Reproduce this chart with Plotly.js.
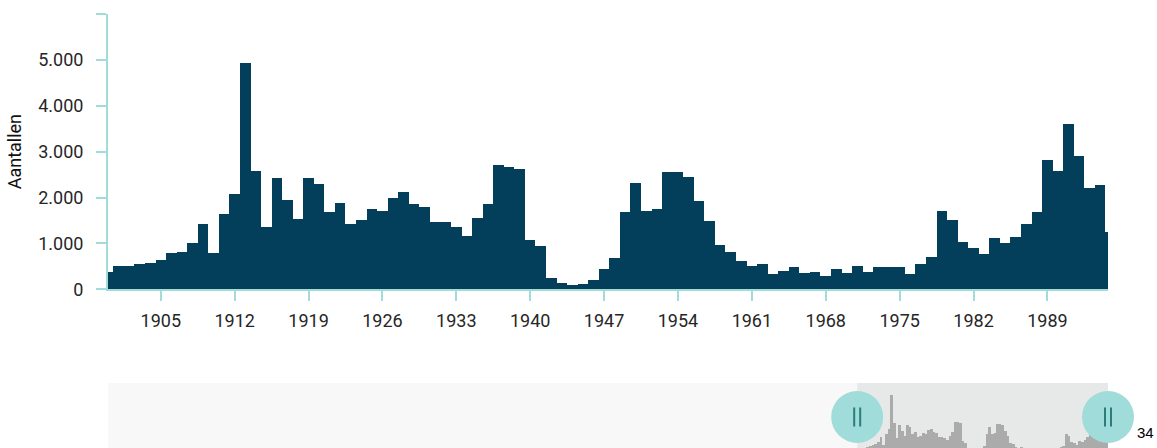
<!DOCTYPE html>
<html>
<head>
<meta charset="utf-8">
<script src="https://cdn.plot.ly/plotly-3.0.1.min.js"></script>
<style>
  html, body { margin: 0; padding: 0; background: #ffffff; }
  #chart { width: 1157px; height: 448px; }
</style>
</head>
<body>
<div id="chart"></div>
<script>
// Years shown (one bar per year)
const years = [];
for (let y = 1900; y <= 1995; y++) years.push(y);

// Counts per year ("Aantallen")
const counts = [
  380, 514, 510, 544, 566, 631, 797, 819, 1002, 1429,   // 1900-1909
  790, 1640, 2069, 4943, 2583, 1363, 2417, 1951, 1524, 2417, // 1910-1919
  2286, 1677, 1879, 1429, 1502, 1755, 1712, 1995, 2112, 1858, // 1920-1929
  1785, 1459, 1459, 1357, 1154, 1546, 1858, 2700, 2657, 2613, // 1930-1939
  1080, 936, 253, 131, 87, 109, 203, 442, 682, 1690,         // 1940-1949
  2308, 1712, 1742, 2561, 2561, 2439, 1923, 1481, 958, 812,  // 1950-1959
  623, 507, 558, 326, 392, 486, 348, 370, 297, 442,          // 1960-1969
  348, 514, 370, 486, 486, 486, 326, 558, 697, 1712,         // 1970-1979
  1502, 1030, 893, 769, 1124, 1008, 1146, 1429, 1690, 2816,  // 1980-1989
  2583, 3593, 2896, 2206, 2278, 1241                          // 1990-1995
];

// Axis ticks
const xTickVals = [1905, 1912, 1919, 1926, 1933, 1940, 1947, 1954, 1961, 1968, 1975, 1982, 1989];
const xTickText = ['1905', '1912', '1919', '1926', '1933', '1940', '1947', '1954', '1961', '1968', '1975', '1982', '1989'];
const yTickVals = [0, 1000, 2000, 3000, 4000, 5000, 6000];
const yTickText = ['0', '1.000', '2.000', '3.000', '4.000', '5.000', ''];

const yTitle = 'Aantallen';
const pageNumber = '34';

// View window (main chart) and navigator window
const viewStart = 1900, viewEnd = 1994.74;
const navStart = 1617;

const AXIS = '#a2dbd8';
const BAR = '#033f5a';
const TXT = '#262626';
const FONT = 'Roboto, "DejaVu Sans", sans-serif';

const NAV_DOMAIN = [0, 0.1498];

const traces = [
  {
    type: 'bar', x: years, y: counts,
    marker: { color: BAR, line: { width: 0 } },
    xaxis: 'x', yaxis: 'y', hoverinfo: 'x+y', showlegend: false
  },
  {
    type: 'bar', x: years, y: counts,
    marker: { color: '#ababab', line: { width: 0 } },
    xaxis: 'x2', yaxis: 'y2', hoverinfo: 'skip', showlegend: false
  }
];

// navigator handles: positioned in paper space from the view window
function handle(xval) {
  const fx = (xval - navStart) / (viewEnd - navStart);
  const fy = NAV_DOMAIN[0] + 0.477 * (NAV_DOMAIN[1] - NAV_DOMAIN[0]);
  const common = { xref: 'paper', yref: 'paper', xsizemode: 'pixel', ysizemode: 'pixel', xanchor: fx, yanchor: fy, layer: 'above' };
  return [
    Object.assign({ type: 'circle', x0: -26, x1: 26, y0: -26, y1: 26, fillcolor: '#a0dcd9', line: { width: 0 } }, common),
    Object.assign({ type: 'line', x0: -3, x1: -3, y0: -9.5, y1: 9.5, line: { color: '#2a7d78', width: 2 } }, common),
    Object.assign({ type: 'line', x0: 3, x1: 3, y0: -9.5, y1: 9.5, line: { color: '#2a7d78', width: 2 } }, common)
  ];
}

const shapes = [
  { type: 'rect', xref: 'x2', yref: 'y2 domain', x0: navStart, x1: viewEnd, y0: 0, y1: 1, fillcolor: '#f8f8f8', line: { width: 0 }, layer: 'below' },
  { type: 'rect', xref: 'x2', yref: 'y2 domain', x0: viewStart, x1: viewEnd, y0: 0, y1: 1, fillcolor: '#e7e9e8', line: { width: 0 }, layer: 'below' }
].concat(handle(viewStart), handle(viewEnd));

const layout = {
  width: 1157, height: 448,
  margin: { l: 108, r: 49, t: 14, b: 0, pad: 0 },
  paper_bgcolor: '#ffffff',
  plot_bgcolor: 'rgba(0,0,0,0)',
  bargap: 0,
  showlegend: false,
  separators: ',.',
  font: { family: FONT, color: TXT, size: 18 },
  xaxis: {
    domain: [0, 1], anchor: 'y',
    range: [viewStart, viewEnd],
    showline: true, linecolor: AXIS, linewidth: 2,
    ticks: 'outside', ticklen: 10, tickwidth: 2, tickcolor: AXIS,
    tickvals: xTickVals, ticktext: xTickText,
    tickfont: { family: FONT, size: 18, color: TXT },
    ticklabelstandoff: 4,
    showgrid: false, zeroline: false, fixedrange: true, automargin: false
  },
  yaxis: {
    domain: [0.3657, 1], anchor: 'x',
    range: [0, 6000],
    showline: true, linecolor: AXIS, linewidth: 2,
    ticks: 'outside', ticklen: 10, tickwidth: 2, tickcolor: AXIS,
    tickvals: yTickVals, ticktext: yTickText,
    tickfont: { family: FONT, size: 18, color: TXT },
    ticklabelstandoff: 9,
    showgrid: false, zeroline: false, fixedrange: true, automargin: false,
    title: { text: yTitle, font: { family: FONT, size: 18, color: '#111111' }, standoff: 12 }
  },
  xaxis2: {
    domain: [0, 1], anchor: 'y2',
    range: [navStart, viewEnd],
    visible: false, fixedrange: true
  },
  yaxis2: {
    domain: NAV_DOMAIN, anchor: 'x2',
    range: [504, 5964],
    visible: false, fixedrange: true
  },
  shapes: shapes,
  annotations: [
    {
      text: pageNumber, xref: 'paper', yref: 'paper',
      x: 1.037, y: 0.0346, xanchor: 'center', yanchor: 'middle',
      showarrow: false, font: { family: '"Liberation Sans", sans-serif', size: 15, color: '#000000' }
    }
  ]
};

Plotly.newPlot('chart', traces, layout, { displayModeBar: false, staticPlot: true });
</script>
</body>
</html>
